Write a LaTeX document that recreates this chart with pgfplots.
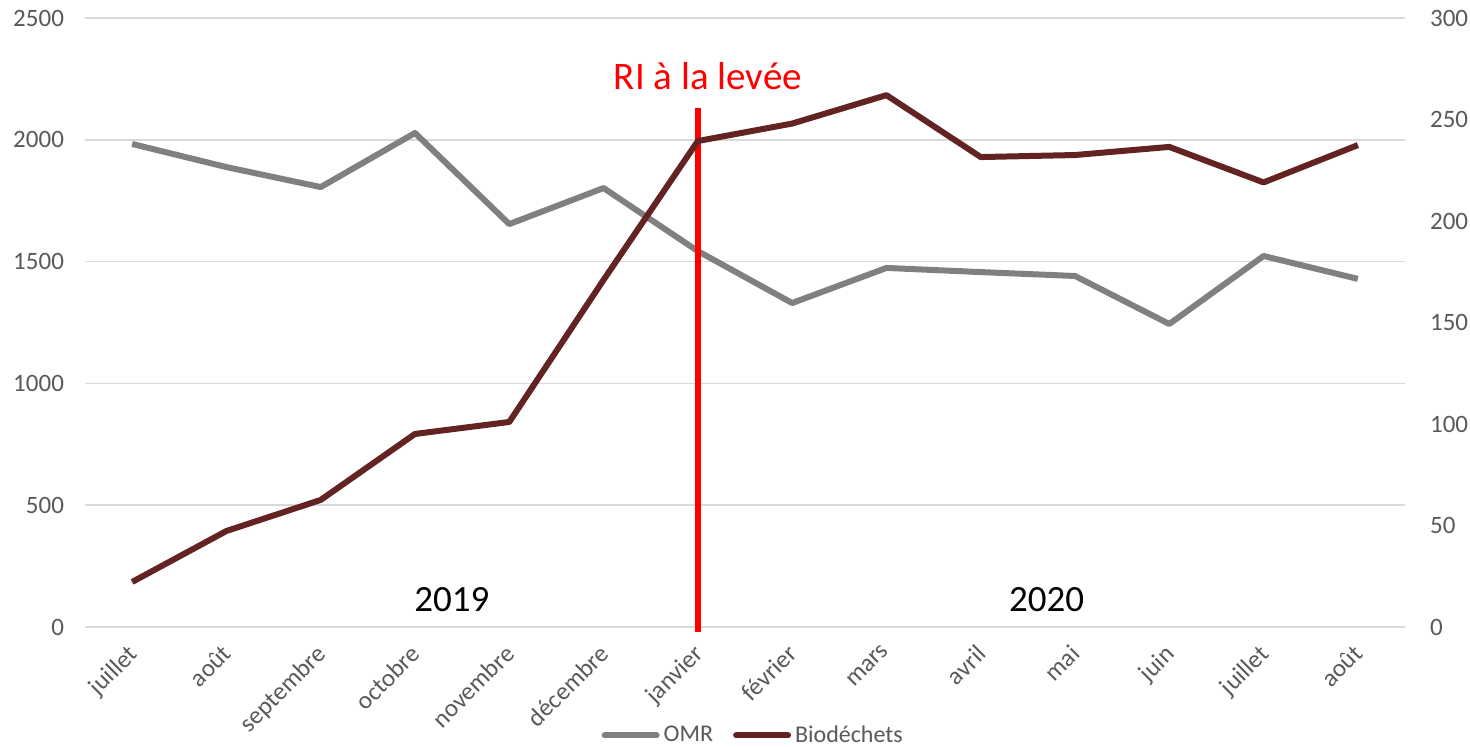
\documentclass[border=0pt]{standalone}
\usepackage{pgfplots}
\pgfplotsset{compat=1.18}
\usepackage{fontspec}
\setmainfont{Carlito}
\definecolor{omr}{RGB}{128,128,128}
\definecolor{bio}{RGB}{99,35,35}
\definecolor{gridc}{RGB}{217,217,217}
\definecolor{tickc}{RGB}{89,89,89}
\begin{document}
\begin{tikzpicture}
\useasboundingbox (-42.5pt,-59.5pt) rectangle (692.5pt,313.5pt);
\pgfplotsset{
  common/.style={
    scale only axis, width=660pt, height=304.5pt,
    at={(0pt,0pt)}, anchor=south west,
    xmin=-0.5, xmax=13.5,
    axis line style={draw=none},
    major tick length=0pt,
    tick label style={font=\fontsize{12.5}{14}\selectfont, text=tickc},
    /pgf/number format/assume math mode=true,
    /pgf/number format/1000 sep={},
    clip=false,
  }
}
\begin{axis}[common,
  ymin=0, ymax=2500, ytick={0,500,1000,1500,2000,2500},
  ymajorgrids, grid style={gridc, line width=0.8pt},
  axis x line*=bottom, axis y line*=left,
  xtick={0,...,13},
  xticklabels={juillet,août,septembre,octobre,novembre,décembre,janvier,février,mars,avril,mai,juin,juillet,août},
  xticklabel style={rotate=45, anchor=north east, xshift=-4.3pt, yshift=-0.3pt},
  yticklabel style={xshift=-7pt},
  legend columns=2,
  legend style={draw=none, at={(axis description cs:0.507,-0.178)}, anchor=center,
    font=\fontsize{12}{14}\selectfont, text=tickc,
    /tikz/every even column/.append style={column sep=8pt}},
  legend image code/.code={\draw[#1, line cap=round] (0pt,0pt) -- (26pt,0pt);},
]
\addplot[omr, line width=3pt, line join=round] coordinates {
(0,1983) (1,1888) (2,1806) (3,2028) (4,1654) (5,1802) (6,1543)
(7,1330) (8,1474) (9,1457) (10,1441) (11,1244) (12,1523) (13,1429)};
\addlegendentry{OMR}
\addlegendimage{bio, line width=3pt}
\addlegendentry{Biodéchets}
\addplot[red, line width=3pt, forget plot] coordinates {(6,-20) (6,2131)};
\node[red, font=\fontsize{19.5}{21}\selectfont] at (axis cs:6.107,2262) {RI à la levée};
\node[black, font=\fontsize{18.5}{20}\selectfont] at (axis cs:3.39,111) {2019};
\node[black, font=\fontsize{18.5}{20}\selectfont] at (axis cs:9.70,111) {2020};
\end{axis}
\begin{axis}[common,
  ymin=0, ymax=300, ytick={0,50,100,150,200,250,300},
  axis y line*=right, axis x line=none,
  yticklabel style={xshift=9pt},
]
\addplot[bio, line width=3pt, line join=round] coordinates {
(0,22.2) (1,47.3) (2,62.6) (3,95.1) (4,101) (5,171) (6,239.4)
(7,248) (8,262) (9,231.5) (10,232.5) (11,236.5) (12,219) (13,237.4)};
\end{axis}
\end{tikzpicture}
\end{document}
